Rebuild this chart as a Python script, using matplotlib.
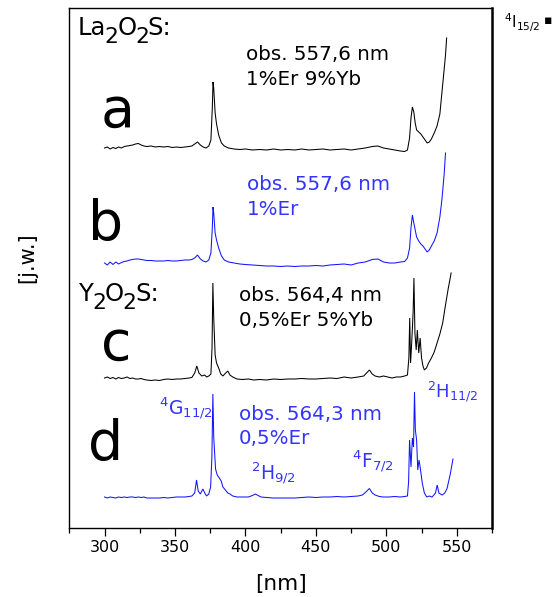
import matplotlib
matplotlib.use("Agg")
import matplotlib.pyplot as plt
from matplotlib import transforms

# ---------------------------------------------------------------------------
# Excitation spectra (wavelength in nm, intensity in arbitrary units above
# each trace's own baseline)
# ---------------------------------------------------------------------------
wl_a = [300, 302, 304, 306, 308, 310, 312, 314, 316, 318, 320, 322, 324, 326,
        328, 330, 333, 336, 339, 342, 345, 348, 351, 354, 357, 360, 362, 364,
        366, 368, 370, 372, 374, 375.5, 376.5, 377, 377.5, 378.5, 379.5, 381,
        383, 385, 388, 392, 396, 400, 405, 410, 415, 420, 425, 430, 435, 440,
        445, 450, 455, 460, 465, 470, 475, 480, 485, 490, 494, 498, 502, 506,
        510, 513, 515, 516.5, 517.5, 518.5, 519.5, 520.5, 521.5, 523, 524.5,
        526, 527.5, 529, 530.5, 532, 534, 536, 538, 539.5, 541, 542, 542.8]
int_a = [0, 1, -1, 0.5, -0.5, 1, 0, 1.5, 2, 2.5, 3, 4, 4.5, 3,
         2, 1.5, 2, 1, 1.5, 1, 1.5, 0.5, 1, 0.5, 1, 1.5, 2, 4,
         6, 3, 1, 0, 2, 8, 40, 66, 60, 35, 24, 13,
         5, 2, 0, -1, -1.5, -1, -2, -1.5, -2, -1, -2, -1.5, -2, -1,
         -2, -1.5, -1, -2, -1.5, -1, -2, -1, 0, 1.5, 2, 0, -1, -2,
         -3, -3.5, -2, 10, 30, 41, 36, 25, 18, 16, 14,
         11, 8, 5, 6, 9, 15, 22, 34, 56, 78, 93, 110]

wl_b = [300, 302, 304, 306, 308, 310, 312, 314, 316, 318, 320, 322, 324, 326,
        328, 330, 333, 336, 339, 342, 345, 348, 351, 354, 357, 360, 362, 364,
        366, 368, 370, 372, 374, 375.5, 376.5, 377, 377.5, 378.5, 379.5, 381,
        383, 385, 388, 392, 396, 400, 405, 410, 415, 420, 425, 430, 435, 440,
        445, 450, 455, 460, 465, 470, 475, 480, 485, 490, 494, 498, 502, 506,
        510, 513, 515, 516.5, 517.5, 518.5, 519.5, 520.5, 521.5, 523, 524.5,
        526, 527.5, 529, 530.5, 532, 534, 536, 538, 539.5, 541, 542]
int_b = [0, -2, 1, -1.5, 1, -1, 0.5, 1.5, 2, 3, 3.5, 4, 4, 3.5,
         3, 2.5, 2.5, 2, 2, 2, 2.5, 2, 2, 2.5, 3, 3, 3.5, 5,
         8, 4, 2, 1, 3, 10, 35, 56, 50, 30, 23, 15,
         7, 3, 1, 0, -1, -1.5, -2, -2.5, -3, -3, -3.5, -3, -3.5, -3,
         -3, -2.5, -3, -2, -1.5, -1, -2, 0, 1, 3.5, 4, 1, 0, 0,
         1, 1.5, 5, 15, 35, 48, 40, 33, 26, 22, 19,
         17, 14, 11, 13, 17, 22, 30, 46, 64, 88, 110]

wl_c = [300, 302, 304, 306, 308, 310, 312, 314, 316, 318, 320, 322, 324, 326,
        328, 330, 333, 336, 339, 342, 345, 348, 351, 354, 357, 360, 362, 364,
        365.5, 367, 369, 371, 372.5, 374, 375.5, 376.3, 376.9, 377.5, 378.5,
        379.5, 381, 382.5, 384, 386, 387.5, 389, 391, 394, 398, 402, 406, 410,
        415, 420, 425, 430, 435, 440, 445, 450, 455, 460, 465, 470, 475, 480,
        484, 486, 488, 490, 492, 495, 498, 501, 504, 507, 510, 513, 515, 516,
        516.6, 517.2, 518, 519, 519.6, 520.3, 521.2, 522, 523, 524, 525, 526,
        527, 528.5, 530, 532, 534, 536, 538, 540, 542, 544, 546]
int_c = [0, 1, -0.5, 0.5, -1, 0.5, -0.5, 0, 1, -0.5, 0, -1, -1, -0.5,
         -1.5, -2, -2.5, -2, -2.5, -1.5, -1, -1.5, -1, -1, -0.5, 0, 0.5, 5,
         12, 5, 2, 3, 1, 2, 4, 30, 95, 60, 23,
         15, 10, 4, 2, 5, 7, 3, 1, -1, -1.5, -1, -2, -1.5,
         -2, -1, -1.5, -1, -1, -0.5, -1, -1, -0.5, 0, -0.5, 1, 0, 1,
         2, 5, 8, 4, 2, 1, 2, 1, 0, 1, 1, 2, 3, 20,
         60, 15, 35, 65, 100, 45, 28, 48, 25, 40, 20, 12,
         8, 10, 15, 20, 26, 35, 44, 55, 73, 90, 105]

wl_d = [300, 302, 304, 306, 308, 310, 312, 314, 316, 318, 320, 322, 324, 326,
        328, 330, 333, 336, 339, 342, 345, 348, 351, 354, 357, 360, 362, 364,
        365.3, 366.5, 368, 369.8, 371.5, 372.5, 374, 375.3, 376.2, 376.9,
        377.5, 378.8, 380, 381.5, 382.8, 384, 385.8, 387.5, 389, 391, 394,
        398, 402, 405, 407, 409, 411, 415, 420, 425, 430, 435, 440, 445, 450,
        455, 460, 465, 470, 475, 480, 483, 485.5, 488, 490, 492, 495, 498,
        502, 506, 510, 513, 515, 515.8, 516.5, 517.5, 518.5, 519.3, 520,
        520.6, 521.5, 522.3, 523.2, 524, 525.5, 527, 528.7, 530.5, 532.5,
        534.9, 536.1, 537.3, 539.6, 541.5, 543.1, 545.4, 547.3]
int_d = [0, -1, 0, -0.5, -1, 0, -0.5, 0, -0.5, 0, 0, -0.5, 0, -0.5,
         0, -1, -1, -1, -1, -0.5, -1, -0.5, 0, 0, 0, 0.5, 1, 4,
         17, 6, 3, 8, 3, 1, 3, 10, 40, 103,
         60, 28, 22, 19, 16, 10, 7, 4, 3, 1, 0,
         0, 0, 1.5, 3, 1.5, 0, -0.5, -1, -1, -1, -1, -0.5, 0, -0.5,
         0, 0, 0.5, 0, 0.5, 1, 2, 5, 8.5, 4, 2, 0.5, 0,
         0, 0.5, 0, 0.5, 1, 15, 57, 30, 59, 50, 105,
         67, 57, 27, 37, 30, 14, 4, 0, 1, 0,
         4, 12, 4, 2, 4, 8.5, 23, 38]

# vertical position of each trace's baseline in the stacked plot
baselines = {"a": 380, "b": 265, "c": 150, "d": 31}

x_ticks = [300, 350, 400, 450, 500, 550]
x_minor = [275, 325, 375, 425, 475, 525, 575]

BLACK = "#000000"
BLUE_LINE = "#1414ff"
BLUE_TEXT = "#3434ff"

W, H, DPI = 554, 597, 100
plt.rcParams["font.family"] = ["DejaVu Sans"]

fig = plt.figure(figsize=(W / DPI, H / DPI), dpi=DPI)
ax = fig.add_axes([69.3 / W, 1 - 528 / H, (492 - 69.3) / W, 520 / H])

traces = [(wl_a, int_a, "a", BLACK), (wl_b, int_b, "b", BLUE_LINE),
          (wl_c, int_c, "c", BLACK), (wl_d, int_d, "d", BLUE_LINE)]
for wl, inten, key, col in traces:
    ax.plot(wl, [v + baselines[key] for v in inten], color=col, lw=0.75,
            solid_joinstyle="miter")

ax.set_xlim(275, 575)
ax.set_ylim(0, 520)
ax.set_xticks(x_ticks)
ax.set_xticks(x_minor, minor=True)
ax.set_yticks([])
ax.tick_params(axis="x", which="major", direction="out", length=5.5,
               width=0.9, labelsize=11.5, pad=3)
ax.tick_params(axis="x", which="minor", direction="out", length=3.5,
               width=0.9)
for side in ("left", "top", "bottom"):
    ax.spines[side].set_linewidth(1.0)
ax.spines["right"].set_linewidth(1.8)

ax.set_xlabel("[nm]", fontsize=15.5)
ax.xaxis.set_label_coords(0.5, (528 - 590) / 520)
ax.xaxis.label.set_va("baseline")
ax.set_ylabel("[j.w.]", fontsize=15)
ax.yaxis.set_label_coords(-0.1, 0.52)
ax.yaxis.label.set_va("center")


def px(x, y):
    return x / W, 1 - y / H


def put(x, y, s, size, color=BLACK, **kw):
    fig.text(*px(x, y), s, fontsize=size, color=color, ha="left",
             va="baseline", **kw)


def formula(x, y, parts, size, color=BLACK):
    """Write a chemical formula piece by piece, dropping the digits."""
    renderer = fig.canvas.get_renderer()
    dx = 0.0
    for s, drop, scale in parts:
        t = fig.text(*px(x, y + drop), s, fontsize=size * scale,
                     color=color, ha="left", va="baseline")
        t.set_transform(transforms.offset_copy(fig.transFigure, fig=fig,
                                               x=dx, y=0, units="dots"))
        dx += t.get_window_extent(renderer).width - 1.5


formula(78, 35, [("La", 0, 1), ("2", 8, 0.9), ("O", 0, 1), ("2", 8, 0.9),
                 ("S:", 0, 1)], 17.5)
formula(79, 301, [("Y", 0, 1), ("2", 8, 0.9), ("O", 0, 1), ("2", 8, 0.9),
                  ("S:", 0, 1)], 17.5)

# sample letters
for letter, x, y in [("a", 101, 127), ("b", 88, 240), ("c", 101, 360),
                     ("d", 88, 460)]:
    put(x, y, letter, 40)

# observation wavelength and dopant concentrations
put(246, 60, "obs. 557,6 nm", 14.3)
put(246, 85, "1%Er 9%Yb", 14.3)
put(247, 190, "obs. 557,6 nm", 14.3, BLUE_TEXT)
put(247, 215, "1%Er", 14.3, BLUE_TEXT)
put(239, 301, "obs. 564,4 nm", 14.3)
put(239, 326, "0,5%Er 5%Yb", 14.3)
put(239, 420, "obs. 564,3 nm", 14.3, BLUE_TEXT)
put(239, 444, "0,5%Er", 14.3, BLUE_TEXT)

# Er3+ excited-state assignments
put(159, 415, r"$^{4}$G$_{11/2}$", 13.5, BLUE_TEXT)
put(251, 480, r"$^{2}$H$_{9/2}$", 13.5, BLUE_TEXT)
put(352, 468, r"$^{4}$F$_{7/2}$", 13.5, BLUE_TEXT)
put(427, 398, r"$^{2}$H$_{11/2}$", 13, BLUE_TEXT)
put(504, 28, r"$^{4}$I$_{15/2}$", 11)
put(544, 24, "\u25aa", 9)

fig.savefig("out.png", dpi=DPI)
